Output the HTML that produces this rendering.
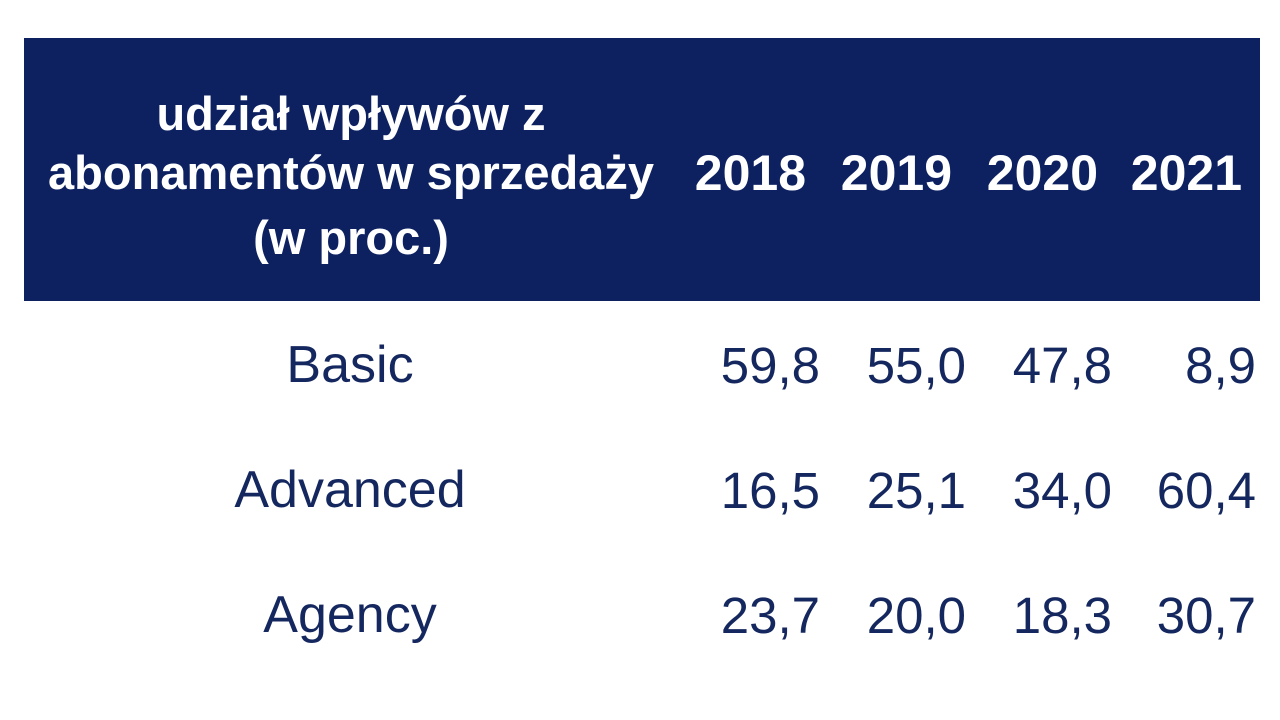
<!DOCTYPE html>
<html><head><meta charset="utf-8"><style>
html,body{margin:0;padding:0;background:#fff;width:1280px;height:720px;overflow:hidden;font-family:"Liberation Sans",Arial,sans-serif}
.hdr{position:absolute;left:24px;top:38px;width:1236px;height:263px;background:#0d2161}
.t{position:absolute;white-space:nowrap;line-height:1}
.h{color:#fff;font-weight:bold;font-size:47px;transform:translateX(-50%)}
.y{color:#fff;font-weight:bold;font-size:50px;transform:translateX(-100%)}
.l{color:#14275e;font-size:52px;transform:translateX(-50%)}
.n{color:#14275e;font-size:51px;transform:translateX(-100%)}
</style></head><body>
<div class="hdr"></div>
<div class="t h" style="left:351px;top:90px">udział wpływów z</div>
<div class="t h" style="left:351px;top:149px">abonamentów w sprzedaży</div>
<div class="t h" style="left:351px;top:214px">(w proc.)</div>
<div class="t y" style="left:806px;top:148px">2018</div>
<div class="t y" style="left:952px;top:148px">2019</div>
<div class="t y" style="left:1098px;top:148px">2020</div>
<div class="t y" style="left:1242px;top:148px">2021</div>

<div class="t l" style="left:350px;top:339px">Basic</div>
<div class="t l" style="left:350px;top:464px">Advanced</div>
<div class="t l" style="left:350px;top:589px">Agency</div>

<div class="t n" style="left:820px;top:340px">59,8</div>
<div class="t n" style="left:966px;top:340px">55,0</div>
<div class="t n" style="left:1112px;top:340px">47,8</div>
<div class="t n" style="left:1256px;top:340px">8,9</div>

<div class="t n" style="left:820px;top:465px">16,5</div>
<div class="t n" style="left:966px;top:465px">25,1</div>
<div class="t n" style="left:1112px;top:465px">34,0</div>
<div class="t n" style="left:1256px;top:465px">60,4</div>

<div class="t n" style="left:820px;top:590px">23,7</div>
<div class="t n" style="left:966px;top:590px">20,0</div>
<div class="t n" style="left:1112px;top:590px">18,3</div>
<div class="t n" style="left:1256px;top:590px">30,7</div>
</body></html>
